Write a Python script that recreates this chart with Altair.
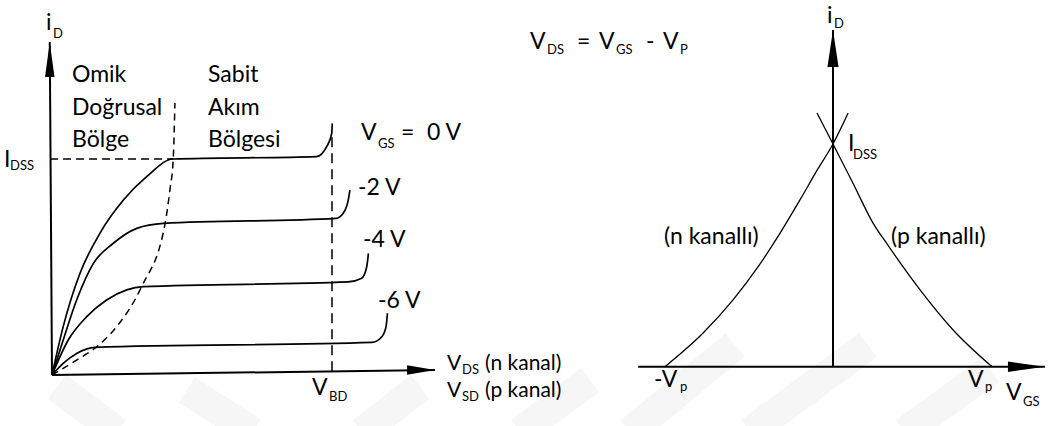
import altair as alt
import pandas as pd

FONT = "Lato"

# ---------- left panel: drain characteristics ----------
# V_DS in volts (breakdown V_BD = 10), i_D in mA (I_DSS = 10)
vgs_labels = ["0 V", "-2 V", "-4 V", "-6 V"]

vds_0 = [0, 0.40, 1.00, 1.71, 2.55, 3.38, 4.32, 9.45, 9.81, 9.99, 10.01]
id_0 = [0, 2.24, 4.71, 6.56, 8.10, 9.18, 10.0, 10.11, 10.57, 11.19, 11.65]

vds_2 = [0, 0.40, 0.88, 1.48, 2.19, 3.03, 3.98, 10.14, 10.40, 10.58, 10.64]
id_2 = [0, 1.62, 3.47, 5.17, 6.10, 6.79, 7.02, 7.25, 7.49, 8.10, 8.56]

vds_4 = [0, 0.58, 1.24, 1.95, 2.67, 3.26, 10.57, 11.06, 11.24, 11.30]
id_4 = [0, 1.62, 2.70, 3.47, 3.94, 4.09, 4.31, 4.48, 5.01, 5.63]

vds_6 = [0, 0.40, 0.88, 1.54, 11.43, 11.78, 11.93, 11.98]
id_6 = [0, 0.54, 1.00, 1.28, 1.51, 1.77, 2.24, 2.86]

# pinch-off locus (boundary between ohmic and saturation regions)
vds_pinch = [0, 0.88, 1.60, 2.31, 3.20, 4.04, 4.21, 4.33, 4.39]
id_pinch = [0, 0.69, 1.31, 2.24, 4.09, 7.02, 8.56, 10.0, 12.59]

i_dss = 10.0
v_bd = 10.0
vds_axis_end = [13.68, 0.23]
id_axis_end = [-0.08, 15.42]

# ---------- right panel: transfer characteristics ----------
# V_GS in volts, i_D in mA (I_DSS = 10)
vgs_n = [-6.0, -4.64, -3.57, -2.68, -1.89, -1.18, -0.54, 0.0, 0.54]
idn = [0.0, 1.51, 3.00, 4.48, 6.00, 7.49, 8.88, 10.0, 11.39]

vgs_p = [-0.57, 0.0, 0.71, 1.43, 1.96, 3.11, 4.29, 5.68]
idp = [11.39, 10.0, 8.25, 6.45, 5.46, 3.45, 1.65, 0.0]

vgs_axis = [-6.96, 7.57]
id_axis_top = 15.12

# scales (each panel maps its own units onto the full canvas)
sx_l = alt.Scale(domain=[-52 / 28, 1004 / 28], nice=False, zero=False)
sy_l = alt.Scale(domain=[-51 / 21.6, 375 / 21.6], nice=False, zero=False)
sx_r = alt.Scale(domain=[-833 / 28, 223 / 28], nice=False, zero=False)
sy_r = alt.Scale(domain=[(366.7 - 426) / 22.27, 366.7 / 22.27], nice=False, zero=False)


def series(xs, ys, name):
    return pd.DataFrame({"x": xs, "y": ys, "k": list(range(len(xs))), "s": name})


def draw(df, sx, sy, width, dash=None, interp="linear"):
    kw = dict(color="black", strokeWidth=width, interpolate=interp)
    if dash:
        kw["strokeDash"] = dash
    return alt.Chart(df).mark_line(**kw).encode(
        x=alt.X("x:Q", scale=sx, axis=None),
        y=alt.Y("y:Q", scale=sy, axis=None),
        order="k:Q",
    )


def head(x, y, path, size, sx, sy):
    return alt.Chart(pd.DataFrame({"x": [x], "y": [y]})).mark_point(
        shape=path, size=size, filled=True, color="black", opacity=1, strokeWidth=0
    ).encode(
        x=alt.X("x:Q", scale=sx, axis=None),
        y=alt.Y("y:Q", scale=sy, axis=None),
    )


UP = "M0,0L0.27,2L-0.27,2Z"
RIGHT = "M0,0L-2,-0.34L-2,0.34Z"

left = alt.layer(
    draw(series([0, vds_axis_end[0]], [0, vds_axis_end[1]], "ax"), sx_l, sy_l, 2),
    draw(series([0, id_axis_end[0]], [0, id_axis_end[1]], "ay"), sx_l, sy_l, 2),
    head(id_axis_end[0], id_axis_end[1], UP, 1225, sx_l, sy_l),
    head(vds_axis_end[0], vds_axis_end[1], RIGHT, 784, sx_l, sy_l),
    draw(series(vds_0, id_0, vgs_labels[0]), sx_l, sy_l, 1.7, interp="monotone"),
    draw(series(vds_2, id_2, vgs_labels[1]), sx_l, sy_l, 1.7, interp="monotone"),
    draw(series(vds_4, id_4, vgs_labels[2]), sx_l, sy_l, 1.7, interp="monotone"),
    draw(series(vds_6, id_6, vgs_labels[3]), sx_l, sy_l, 1.7, interp="monotone"),
    draw(series(vds_pinch, id_pinch, "pinch"), sx_l, sy_l, 1.5, dash=[7, 5], interp="monotone"),
    draw(series([-0.07, vds_pinch[7]], [i_dss, i_dss], "idss"), sx_l, sy_l, 1.5, dash=[8, 5]),
    draw(series([v_bd, v_bd], [0.17, 11.3], "vbd"), sx_l, sy_l, 1.5, dash=[10, 6]),
)

right = alt.layer(
    draw(series(vgs_axis, [0, 0], "hx"), sx_r, sy_r, 2),
    draw(series([0, 0], [0, id_axis_top], "vy"), sx_r, sy_r, 2),
    head(0, id_axis_top, "M0,0L0.30,2L-0.30,2Z", 1369, sx_r, sy_r),
    head(vgs_axis[1], 0, "M0,0L-2,-0.28L-2,0.28Z", 1369, sx_r, sy_r),
    draw(series(vgs_n, idn, "n"), sx_r, sy_r, 1.3, interp="monotone"),
    draw(series(vgs_p, idp, "p"), sx_r, sy_r, 1.3, interp="monotone"),
)

# faint diagonal watermark bands behind the drawing: (x1, y1, x2, y2) in px
bands = [
    (57, 387, 117, 432), (187, 390, 253, 432), (362, 432, 420, 387),
    (520, 432, 590, 380), (630, 432, 735, 345), (750, 432, 868, 345),
    (905, 432, 990, 370),
]
band_rows = []
for i, (x1, y1, x2, y2) in enumerate(bands):
    band_rows += [{"b": i, "k": 0, "px": x1, "py": y1}, {"b": i, "k": 1, "px": x2, "py": y2}]
watermark = alt.Chart(pd.DataFrame(band_rows)).mark_line(
    color="#f6f6f6", strokeWidth=30, strokeCap="butt"
).encode(
    x=alt.X("px:Q", scale=None),
    y=alt.Y("py:Q", scale=None),
    detail="b:N",
    order="k:Q",
)

# annotation text: (string, x px, baseline px)
main_text = [
    ("i", 46, 30), ("Omik", 72, 82), ("Doğrusal", 72, 115), ("Bölge", 72, 147),
    ("Sabit", 208, 82), ("Akım", 208, 115), ("Bölgesi", 208, 147),
    ("I", 4, 167), ("V", 361, 140), ("=", 401, 140), ("0 V", 427, 140),
    ("-2 V", 358, 195), ("-4 V", 363, 247), ("-6 V", 378, 308),
    ("V", 312, 395),
    ("V", 530, 49), ("=", 577, 49), ("V", 599, 49), ("-", 646, 49), ("V", 663, 49),
    ("i", 827, 23), ("I", 848, 151),
    ("(n kanallı)", 664, 244), ("(p kanallı)", 891, 244),
    ("-V", 654, 387), ("V", 968, 387), ("V", 1006, 400),
]
# the two stacked x-axis captions of the left panel
axis_text = [
    ("V", 447, 370), ("(n kanal)", 485, 370),
    ("V", 447, 397), ("(p kanal)", 485, 397),
]
sub_text = [
    ("D", 53, 38), ("DSS", 10, 170), ("GS", 378, 148), ("BD", 329, 401),
    ("DS", 462, 374), ("SD", 462, 401),
    ("DS", 547, 54), ("GS", 616, 54), ("P", 680, 54),
    ("D", 834, 28), ("DSS", 853, 159),
    ("p", 680, 391), ("p", 985, 391), ("GS", 1023, 406),
]


def labels(items, fs):
    df = pd.DataFrame(items, columns=["t", "px", "py"])
    return alt.Chart(df).mark_text(
        font=FONT, fontSize=fs, align="left", baseline="alphabetic", color="black"
    ).encode(
        x=alt.X("px:Q", scale=None),
        y=alt.Y("py:Q", scale=None),
        text="t:N",
    )


chart = (
    alt.layer(watermark, left, right, labels(main_text, 23),
              labels(axis_text, 21), labels(sub_text, 13))
    .resolve_scale(x="independent", y="independent")
    .properties(width=1056, height=426, padding=0,
                autosize=alt.AutoSizeParams(type="none"), background="white")
    .configure_view(stroke=None)
)

chart.save("out.html", embed_options={"renderer": "svg", "actions": False})
